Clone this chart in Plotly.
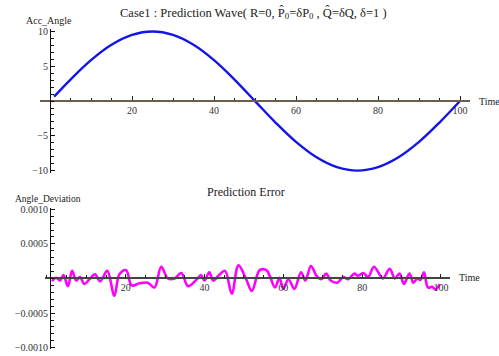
import plotly.graph_objects as go

W, H = 499, 356

# Top chart: prediction wave
wave_t = [1, 5, 10, 15, 20, 25, 30, 35, 40, 45, 50, 55, 60, 65, 70, 75, 80, 85, 90, 95, 100]
wave_v = [0.63, 3.09, 5.88, 8.09, 9.51, 10.0, 9.51, 8.09, 5.88, 3.09, 0.0,
          -3.09, -5.88, -8.09, -9.51, -10.0, -9.51, -8.09, -5.88, -3.09, 0.0]

# Bottom chart: prediction error
err_t = [1.3, 2.3, 3.3, 4.2, 5.3, 6.4, 7.4, 8.4, 9.5, 10.8, 12.2, 13.5, 15.3, 17.1, 18.4,
         20.1, 21.5, 23.5, 25.6, 27.3, 29.0, 30.7, 32.4, 34.1, 35.8, 37.9, 39.1, 40.0,
         41.2, 42.2, 43.7, 45.2, 46.9, 48.6, 50.5, 52.0, 54.0, 55.7, 56.6, 57.9, 59.0,
         60.0, 61.3, 62.8, 64.5, 65.6, 67.0, 68.4, 69.6, 70.9, 72.0, 73.7, 75.2, 76.5,
         78.0, 79.0, 80.3, 81.5, 83.0, 84.5, 85.3, 87.0, 88.3, 89.5, 90.6, 92.0, 93.0,
         94.0, 94.8, 95.7, 96.7, 97.8, 98.6, 99.7]
err_v = [-0.00004, 0.00001, -0.00003, 0.00005, -0.00011, 0.00011, -0.00003, 0.00002,
         -0.00008, -0.00001, 0.00006, -0.00004, 0.00011, -0.00025, 0.00006, 0.00012,
         -0.00010, -0.00007, -0.00006, -0.00013, 0.00017, 0.0, 0.0, 0.00008, -0.00011,
         -0.00002, 0.00005, -0.00003, 0.00009, -0.00003, 0.00005, 0.00011, -0.00022,
         0.00019, 0.0, -0.00018, 0.00012, 0.00012, 0.00003, -0.00013, 0.00001, -0.00015,
         -0.00001, -0.00015, 0.00009, -0.00003, 0.00018, 0.00004, -0.00001, 0.00007,
         -0.00003, -0.00006, 0.00002, -0.00001, 0.00007, 0.00004, 0.00008, 0.00002,
         0.00017, 0.00005, 0.0, 0.00014, 0.0, 0.00007, -0.00008, 0.00007, -0.00006,
         0.0, -0.00002, 0.00009, -0.00013, -0.00012, -0.00016, -0.00008]

top_x_ticks = [20, 40, 60, 80, 100]
top_y_ticks = [-10, -5, 5, 10]
top_y_text = ["\u221210", "\u22125", "5", "10"]
bot_x_ticks = [20, 40, 60, 80, 100]
bot_y_ticks = [-0.001, -0.0005, 0.0005, 0.001]
bot_y_text = ["\u22120.0010", "\u22120.0005", "0.0005", "0.0010"]

FONT = "Liberation Serif"

def px_x(p):
    return p / W

def px_y(p):
    return 1 - p / H

fig = go.Figure()
fig.add_trace(go.Scatter(x=wave_t, y=wave_v, mode="lines", line=dict(color="#1414e6", width=2.4, shape="spline"),
                         xaxis="x", yaxis="y", showlegend=False))
fig.add_trace(go.Scatter(x=err_t, y=err_v, mode="lines", line=dict(color="#ff00ff", width=2.6, shape="spline", smoothing=1.0),
                         xaxis="x2", yaxis="y2", showlegend=False))

tickfont = dict(family=FONT, size=10, color="#333")

top_x0, top_x1 = 40, 470
top_y0, top_y1 = 25.2, 172.8
fig.update_layout(
    width=W, height=H, margin=dict(l=0, r=0, t=0, b=0),
    paper_bgcolor="white", plot_bgcolor="white",
    xaxis=dict(domain=[px_x(top_x0), px_x(top_x1)], range=[-2.44, 102.44], anchor="free",
               position=px_y(99), showgrid=False, zeroline=False, showline=True,
               linecolor="#6b5d4f", linewidth=2, tickmode="array", tickvals=top_x_ticks,
               ticks="inside", ticklen=4, tickcolor="#222", tickwidth=1, tickfont=tickfont,
               minor=dict(dtick=5, tick0=0, ticks="inside", ticklen=2.5, tickcolor="#222")),
    yaxis=dict(domain=[px_y(top_y1), px_y(top_y0)], range=[-10.4, 10.4], anchor="free",
               position=px_x(50), showgrid=False, zeroline=False, showline=True,
               linecolor="#111", linewidth=1, tickmode="array", tickvals=top_y_ticks,
               ticktext=top_y_text, ticks="inside", ticklen=4, tickcolor="#111",
               tickfont=tickfont,
               minor=dict(dtick=1, tick0=0, ticks="inside", ticklen=2.5, tickcolor="#111")),
    xaxis2=dict(domain=[px_x(45), px_x(450)], range=[-0.5, 102.3], anchor="free",
                position=px_y(280), showgrid=False, zeroline=False, showline=True,
                linecolor="#444", linewidth=1.5, tickmode="array", tickvals=bot_x_ticks,
                ticks="inside", ticklen=4, tickcolor="#222", tickfont=tickfont,
                minor=dict(dtick=5, tick0=0, ticks="inside", ticklen=2.5, tickcolor="#222")),
    yaxis2=dict(domain=[px_y(352), px_y(208)], range=[-0.00102, 0.00102], anchor="free",
                position=px_x(50), showgrid=False, zeroline=False, showline=True,
                linecolor="#111", linewidth=1, tickmode="array", tickvals=bot_y_ticks,
                ticktext=bot_y_text, ticks="inside", ticklen=4, tickcolor="#111",
                tickfont=tickfont,
                minor=dict(dtick=0.0001, tick0=0, ticks="inside", ticklen=2.5, tickcolor="#111")),
)

def label(text, x, y, size=9, xanchor="center"):
    fig.add_annotation(text=text, x=px_x(x), y=px_y(y), xref="paper", yref="paper",
                       showarrow=False, xanchor=xanchor, yanchor="middle",
                       font=dict(family=FONT, size=size, color="#222"))

label("Case1 : Prediction Wave( R=0, P\u0302<sub>0</sub>=\u03b4P<sub>0</sub> , Q\u0302=\u03b4Q, \u03b4=1 )", 254, 9, size=12.5)
label("Acc_Angle", 49, 17, size=10)
label("Time", 477, 99, size=10, xanchor="left")
label("Prediction Error", 246, 192, size=12)
label("Angle_Deviation", 48, 199, size=9.5)
label("Time", 457, 279, size=10, xanchor="left")

fig.write_html("out.html")
